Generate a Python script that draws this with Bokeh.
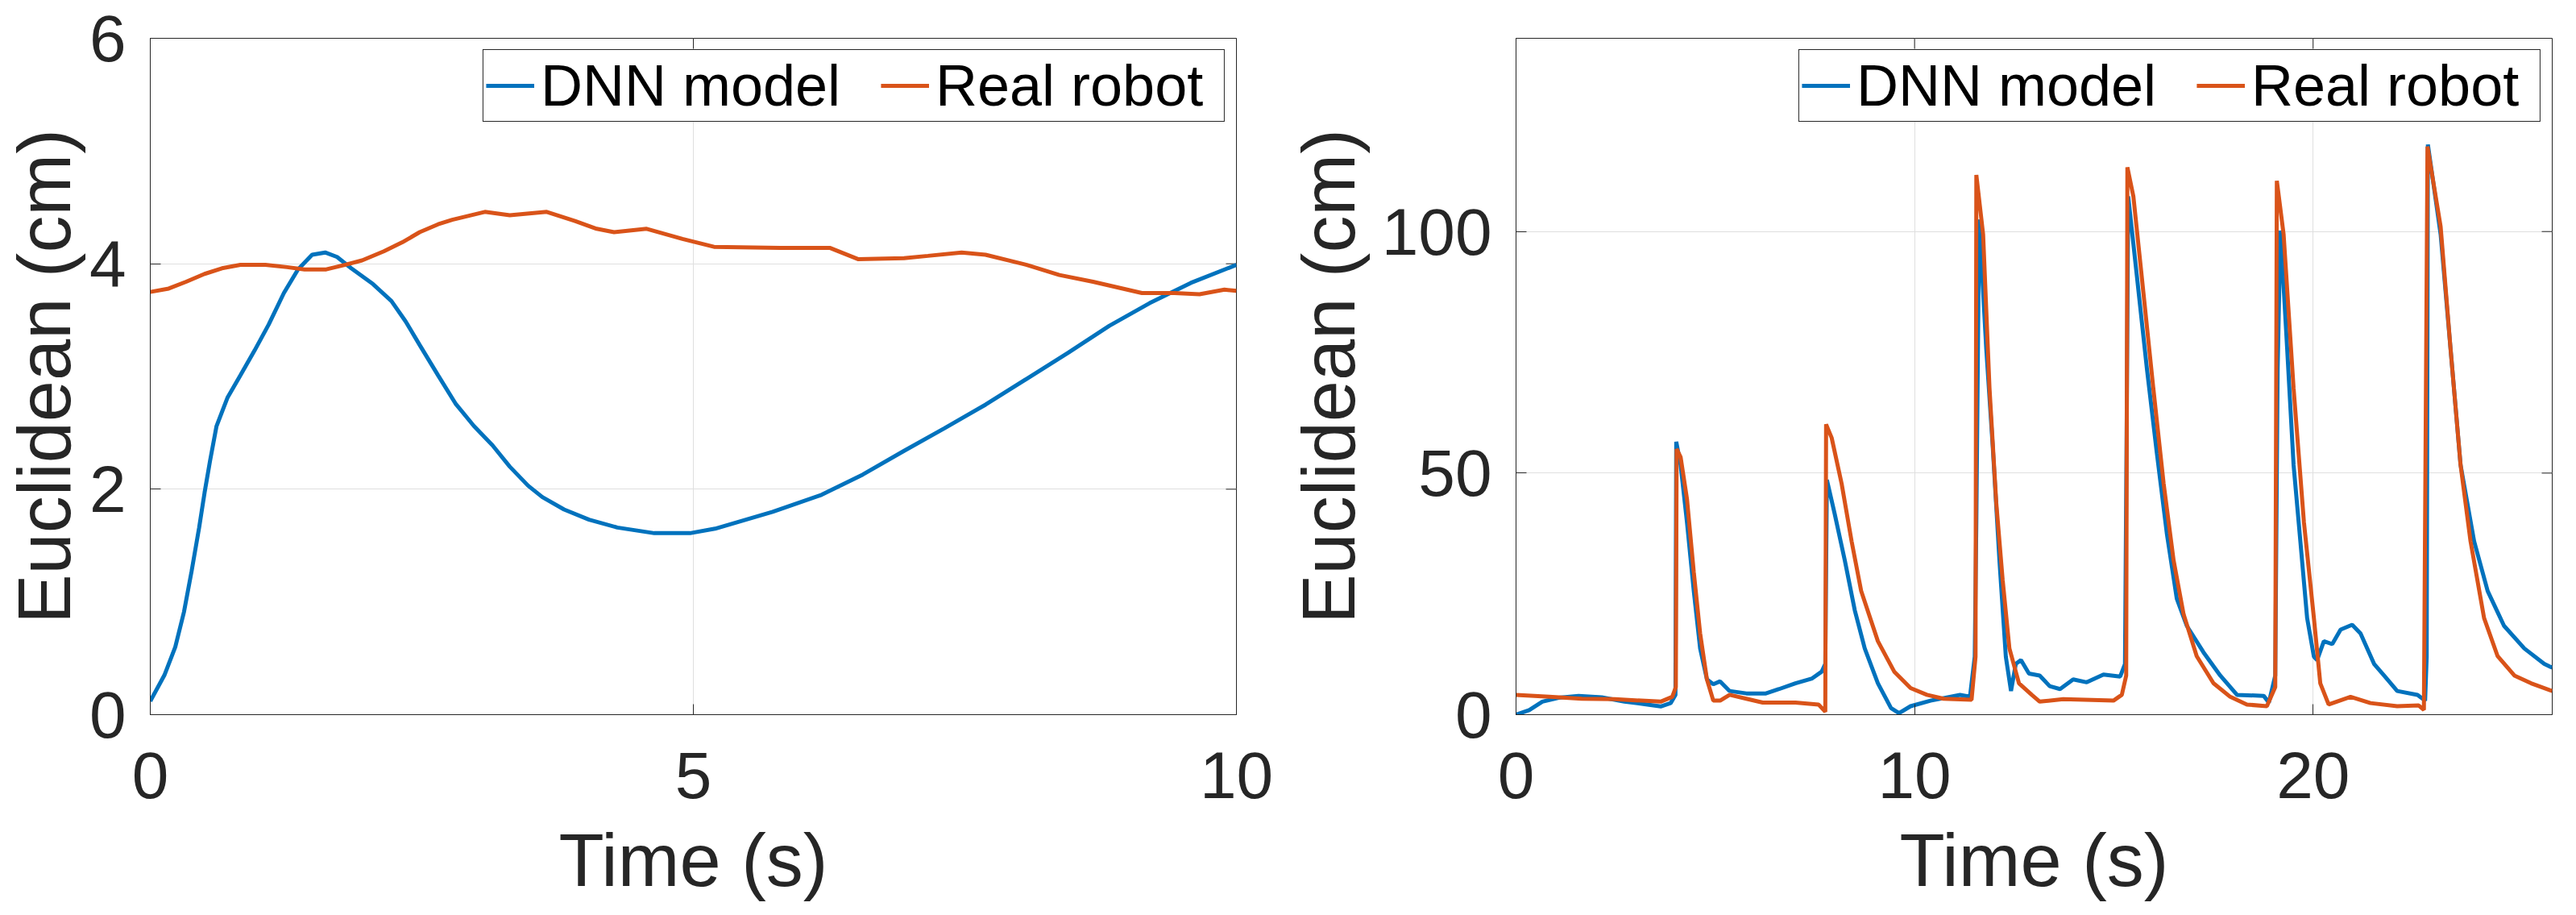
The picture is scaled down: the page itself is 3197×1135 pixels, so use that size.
import math
from bokeh.plotting import figure
from bokeh.layouts import row
from bokeh.models import Range1d, FixedTicker
from bokeh.embed import file_html
from bokeh.resources import INLINE

# ---------------- data ----------------
# Left panel (0-10 s)
t1_dnn = [0, 0.13, 0.23, 0.31, 0.38, 0.45, 0.50, 0.55, 0.61, 0.71, 0.83, 0.96, 1.09, 1.23,
          1.36, 1.49, 1.61, 1.72, 1.85, 2.05, 2.22, 2.35, 2.48, 2.65, 2.81, 2.98, 3.15,
          3.31, 3.48, 3.61, 3.81, 4.04, 4.30, 4.64, 4.97, 5.20, 5.73, 6.18, 6.56, 6.94,
          7.31, 7.69, 8.07, 8.45, 8.83, 9.2, 9.58, 10]
y1_dnn = [0.12, 0.35, 0.60, 0.91, 1.27, 1.66, 1.97, 2.25, 2.56, 2.81, 3.01, 3.23, 3.46, 3.74,
          3.95, 4.08, 4.10, 4.06, 3.96, 3.82, 3.67, 3.49, 3.28, 3.01, 2.76, 2.56, 2.39,
          2.20, 2.03, 1.93, 1.82, 1.73, 1.66, 1.61, 1.61, 1.65, 1.80, 1.95, 2.13, 2.34,
          2.54, 2.75, 2.98, 3.21, 3.45, 3.65, 3.83, 3.99]
t1_rob = [0, 0.17, 0.33, 0.5, 0.66, 0.83, 1.06, 1.26, 1.42, 1.62, 1.79, 1.95, 2.15, 2.32,
          2.48, 2.65, 2.78, 3.08, 3.31, 3.65, 3.91, 4.11, 4.27, 4.57, 4.90, 5.19, 5.8,
          6.26, 6.52, 6.94, 7.16, 7.47, 7.69, 8.07, 8.37, 8.68, 9.13, 9.43, 9.66, 9.89, 10]
y1_rob = [3.75, 3.78, 3.84, 3.91, 3.96, 3.99, 3.99, 3.97, 3.95, 3.95, 3.99, 4.03, 4.11, 4.19,
          4.28, 4.35, 4.39, 4.46, 4.43, 4.46, 4.38, 4.31, 4.28, 4.31, 4.22, 4.15, 4.14,
          4.14, 4.04, 4.05, 4.07, 4.10, 4.08, 3.99, 3.90, 3.84, 3.74, 3.74, 3.73, 3.77, 3.76]

# Right panel (0-26 s)
t2_dnn = [0, 0.33, 0.66, 1.07, 1.57, 2.15, 2.72, 3.30, 3.63, 3.88,
          4.0, 4.02, 4.13, 4.29, 4.46, 4.62, 4.79, 4.95, 5.12, 5.36,
          5.78, 6.27, 6.60, 7.01, 7.43, 7.67, 7.76, 7.80, 8.0, 8.25,
          8.50, 8.75, 9.08, 9.41, 9.61, 9.90, 10.4, 11.14, 11.39, 11.51,
          11.55, 11.62, 11.8, 11.96, 12.13, 12.29, 12.42, 12.54, 12.67, 12.87,
          13.14, 13.39, 13.65, 13.98, 14.32, 14.74, 15.16, 15.28, 15.32, 15.36,
          15.57, 15.83, 16.08, 16.33, 16.58, 16.83, 17.25, 17.67, 18.09, 18.76,
          18.89, 19.05, 19.11, 19.18, 19.35, 19.51, 19.68, 19.85, 20.02, 20.1,
          20.27, 20.48, 20.69, 20.98, 21.19, 21.53, 21.78, 22.11, 22.62, 22.81,
          22.85, 22.88, 23.2, 23.45, 23.7, 24.04, 24.38, 24.79, 25.30, 25.80,
          26.0]
y2_dnn = [0, 0.95, 2.7, 3.5, 3.9, 3.6, 2.7, 2.1, 1.7, 2.4,
          4.1, 56.5, 51.7, 39.8, 25.6, 13.7, 7.3, 6.3, 6.9, 4.9,
          4.4, 4.4, 5.3, 6.5, 7.5, 8.9, 10.5, 48.6, 41.4, 31.9,
          21.6, 13.7, 6.5, 1.35, 0.3, 1.75, 2.9, 4.1, 3.7, 12,
          40, 102.5, 75.6, 55.7, 31.9, 12, 4.9, 10.5, 11.3, 8.5,
          8.1, 5.9, 5.3, 7.3, 6.7, 8.3, 7.9, 10.5, 56.5, 107.3,
          91.4, 71.6, 54.1, 37.5, 24, 18.4, 12.9, 8.1, 4.1, 3.9,
          2.5, 8.1, 71.6, 100.2, 75.6, 51.7, 35.9, 20, 12, 11.3,
          15.2, 14.6, 17.6, 18.6, 16.8, 10.5, 8.1, 4.9, 4.1, 2.9,
          12, 118, 99.4, 75.6, 51.7, 35.9, 25.6, 18.4, 13.7, 10.5,
          9.7]
t2_rob = [0, 0.83, 1.65, 2.48, 3.63, 3.92, 4.01, 4.03, 4.13, 4.29,
          4.46, 4.62, 4.79, 4.95, 5.12, 5.36, 5.78, 6.19, 7.01, 7.59,
          7.76, 7.78, 7.92, 8.17, 8.42, 8.66, 9.08, 9.49, 9.90, 10.31,
          10.73, 11.43, 11.53, 11.55, 11.72, 11.88, 12.05, 12.21, 12.38, 12.62,
          12.94, 13.14, 13.73, 14.99, 15.20, 15.31, 15.34, 15.49, 15.74, 15.99,
          16.25, 16.5, 16.75, 17.08, 17.50, 17.92, 18.34, 18.84, 19.05, 19.09,
          19.26, 19.51, 19.77, 20.02, 20.18, 20.39, 20.94, 21.44, 22.11, 22.65,
          22.78, 22.85, 22.87, 23.2, 23.45, 23.7, 23.95, 24.29, 24.63, 25.05,
          25.47, 26.0]
y2_rob = [4.1, 3.7, 3.3, 3.2, 2.7, 3.7, 5.7, 55, 53.3, 44.6,
          29.5, 16.8, 7.3, 2.9, 2.9, 4.1, 3.3, 2.5, 2.5, 2.1,
          0.6, 60.1, 57.3, 47.8, 35.9, 25.6, 15.2, 8.9, 5.5, 4.1,
          3.3, 3.1, 12, 111.7, 99.4, 67.6, 43.8, 27.9, 13.7, 6.5,
          4.1, 2.7, 3.2, 2.9, 4.1, 8.1, 113.3, 107.3, 87.5, 67.6,
          47.8, 31.9, 20.8, 12.1, 6.5, 3.7, 2.1, 1.75, 5.7, 110.5,
          99.4, 67.6, 39.8, 20, 6.5, 2.1, 3.7, 2.4, 1.75, 1.9,
          1.0, 91.4, 117.6, 101, 75.6, 51.7, 35.9, 20, 12.1, 8.1,
          6.5, 4.9]

x1_ticks = [0, 5, 10]
y1_ticks = [0, 2, 4, 6]
x2_ticks = [0, 10, 20]
y2_ticks = [0, 50, 100]
series_names = ["DNN model", "Real robot"]
x_label = "Time (s)"
y_label = "Euclidean (cm)"

BLUE = "#0072BD"
ORANGE = "#D95319"
DARK = "#262626"
FONT = "Liberation Sans"


def make_panel(xr, yr, xt, yt, tdnn, ydnn, trob, yrob, fw, bl, br, ylab_off):
    p = figure(frame_width=fw, frame_height=839, x_range=Range1d(*xr), y_range=Range1d(*yr),
               output_backend="svg", toolbar_location=None,
               min_border_left=bl, min_border_right=br, min_border_top=47, min_border_bottom=230)
    p.background_fill_color = "white"
    p.border_fill_color = "white"
    p.outline_line_color = DARK
    p.outline_line_width = 1
    p.outline_line_alpha = 1
    p.xaxis.ticker = FixedTicker(ticks=xt)
    p.yaxis.ticker = FixedTicker(ticks=yt)
    p.xgrid.ticker = FixedTicker(ticks=xt)
    p.ygrid.ticker = FixedTicker(ticks=yt)
    p.grid.grid_line_color = "#dfdfdf"
    p.grid.grid_line_width = 1
    p.xaxis.axis_label = x_label
    p.yaxis.axis_label = y_label
    for ax in [p.xaxis[0], p.yaxis[0]]:
        ax.major_label_text_font = FONT
        ax.major_label_text_font_size = "82px"
        ax.major_label_text_color = DARK
        ax.axis_label_text_font = FONT
        ax.axis_label_text_font_size = "92px"
        ax.axis_label_text_font_style = "normal"
        ax.axis_label_text_color = DARK
        ax.major_tick_in = 13
        ax.major_tick_out = 0
        ax.minor_tick_in = 0
        ax.minor_tick_out = 0
        ax.axis_line_color = DARK
        ax.major_tick_line_color = DARK
    p.yaxis.major_label_standoff = 30
    p.yaxis.axis_label_standoff = ylab_off
    p.xaxis.major_label_standoff = 46
    p.xaxis.axis_label_standoff = 23

    # inward ticks on the right and top edges of the box (MATLAB "box on")
    p.ray(x=[xr[1]] * len(yt), y=yt, length=13, length_units="screen", angle=math.pi,
          line_color=DARK, line_width=1)
    p.ray(x=xt, y=[yr[1]] * len(xt), length=13, length_units="screen", angle=-math.pi / 2,
          line_color=DARK, line_width=1)

    p.line(tdnn, ydnn, line_color=BLUE, line_width=5, legend_label=series_names[0])
    p.line(trob, yrob, line_color=ORANGE, line_width=5, legend_label=series_names[1])

    lg = p.legend[0]
    lg.location = "top_right"
    lg.orientation = "horizontal"
    lg.label_text_font = FONT
    lg.label_text_font_size = "72px"
    lg.label_text_color = "black"
    lg.glyph_width = 60
    lg.glyph_height = 40
    lg.label_standoff = 8
    lg.label_width = 355
    lg.spacing = 50
    lg.padding = 3
    lg.margin = 14
    lg.border_line_color = DARK
    lg.border_line_width = 1.5
    lg.border_line_alpha = 1
    lg.background_fill_alpha = 1
    return p


p1 = make_panel((0, 10), (0, 6), x1_ticks, y1_ticks, t1_dnn, y1_dnn, t1_rob, y1_rob,
                1348, 180, 58, 2)
p2 = make_panel((0, 26), (0, 140), x2_ticks, y2_ticks, t2_dnn, y2_dnn, t2_rob, y2_rob,
                1286, 289, 20, 12)

layout = row(p1, p2)
open("out.html", "w").write(file_html(layout, INLINE))
